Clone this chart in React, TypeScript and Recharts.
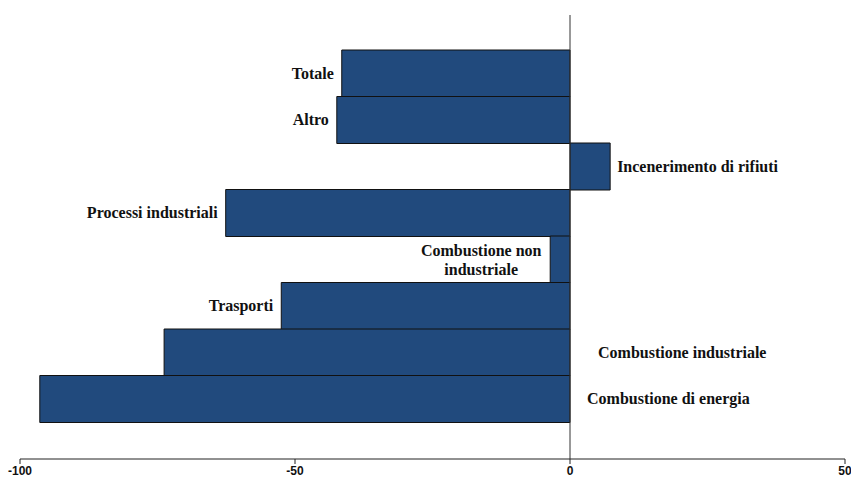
import React from "react";
import { BarChart, Bar, XAxis, YAxis, ReferenceLine, LabelList } from "recharts";

const categories = [
  "Totale",
  "Altro",
  "Incenerimento di rifiuti",
  "Processi industriali",
  "Combustione non industriale",
  "Trasporti",
  "Combustione industriale",
  "Combustione di energia",
];
const values = [-41.5, -42.4, 7.3, -62.6, -3.6, -52.5, -73.8, -96.4];
const xTicks = [-100, -50, 0, 50];

const data = categories.map((name, i) => ({ name, value: values[i] }));

const FONT = "'Liberation Serif', 'DejaVu Serif', serif";

// where each label sits: next to the bar end, or on the right of the zero line
const labelPlace: Record<string, { mode: string; dx: number }> = {
  "Combustione non industriale": { mode: "twoLine", dx: 69 },
  "Combustione industriale": { mode: "zeroRight", dx: 28 },
  "Combustione di energia": { mode: "zeroRight", dx: 17 },
};

const BarLabel = (props: any) => {
  const { x, y, width, height, index } = props;
  const name = categories[index];
  const v = values[index];
  const left = Math.min(x, x + width);
  const right = Math.max(x, x + width);
  const zeroX = v < 0 ? right : left;
  const cy = y + height / 2;
  const place = labelPlace[name];
  const common = { fontFamily: FONT, fontWeight: 700, fontSize: 16, fill: "#111" };
  if (place && place.mode === "twoLine") {
    return (
      <text {...common} x={left - place.dx} y={cy} textAnchor="middle">
        <tspan x={left - place.dx} dy={-4}>Combustione non</tspan>
        <tspan x={left - place.dx} dy={19}>industriale</tspan>
      </text>
    );
  }
  if (place && place.mode === "zeroRight") {
    return (
      <text {...common} x={zeroX + place.dx} y={cy} dy={5} textAnchor="start">
        {name}
      </text>
    );
  }
  if (v < 0) {
    return (
      <text {...common} x={left - 8} y={cy} dy={5} textAnchor="end">
        {name}
      </text>
    );
  }
  return (
    <text {...common} x={right + 7} y={cy} dy={5} textAnchor="start">
      {name}
    </text>
  );
};

export default function App() {
  return (
    <div style={{ position: "absolute", left: 0, top: 0, background: "#fff" }}>
      <BarChart
        width={851}
        height={480}
        data={data}
        layout="vertical"
        barCategoryGap={0}
        margin={{ top: 15, right: 6, left: 20, bottom: 0 }}
      >
        <XAxis
          type="number"
          domain={[-100, 50]}
          ticks={xTicks}
          height={21}
          stroke="#222"
          tickSize={5}
          tick={{
            fontFamily: "'Liberation Sans Narrow', 'Liberation Sans', sans-serif",
            fontWeight: 700,
            fontSize: 12,
            fill: "#111",
          }}
          interval={0}
        />
        <YAxis
          type="category"
          dataKey="name"
          hide
          padding={{ top: 35, bottom: 37 }}
        />
        <YAxis yAxisId="full" type="number" hide domain={[0, 1]} />
        <ReferenceLine x={0} yAxisId="full" stroke="#333" strokeWidth={1} />
        <Bar
          dataKey="value"
          fill="#214A7D"
          stroke="#111"
          strokeWidth={1}
          isAnimationActive={false}
        >
          <LabelList dataKey="value" content={BarLabel} />
        </Bar>
      </BarChart>
    </div>
  );
}
